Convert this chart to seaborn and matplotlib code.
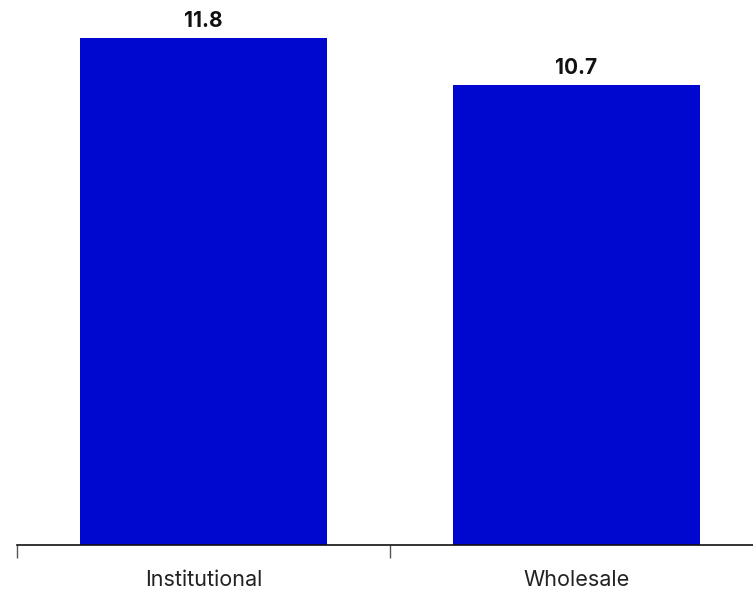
import matplotlib
matplotlib.use("Agg")
import matplotlib.pyplot as plt
import pandas as pd
import seaborn as sns

CATEGORIES = ["Institutional", "Wholesale"]
VALUES = [11.8, 10.7]
BAR_COLOR = "#0008CF"


def main():
    sns.set_theme(style="white")
    plt.rcParams["font.family"] = ["Inter", "DejaVu Sans"]

    df = pd.DataFrame({"segment": CATEGORIES, "value": VALUES})

    fig = plt.figure(figsize=(7.53, 5.90), dpi=100)
    # axes in pixel terms: left edge at x=17, category step 373px, baseline at y=545
    W, H = 753, 590
    ax = fig.add_axes([17 / W, (H - 545) / H, 746 / W, 537 / H])

    sns.barplot(data=df, x="segment", y="value", color=BAR_COLOR, width=0.66,
                saturation=1, edgecolor="none", ax=ax)

    ax.set_xlim(-0.5, 1.5)
    ax.set_ylim(0, 12.5)

    for i, v in enumerate(VALUES):
        ax.annotate(f"{v:.1f}", (i, v), xytext=(0, 5), textcoords="offset points",
                    ha="center", va="bottom", fontsize=15, fontweight="bold", color="#111111")

    sns.despine(ax=ax, left=True, top=True, right=True)
    ax.spines["bottom"].set_color("#111111")
    ax.spines["bottom"].set_linewidth(1.2)

    ax.set_yticks([])
    ax.set_xticks([-0.5, 0.5, 1.5])
    ax.set_xticklabels([])
    ax.tick_params(axis="x", which="major", direction="out", length=9.5, width=1,
                   color="#555555", bottom=True)
    ax.set_xticks(range(len(CATEGORIES)), minor=True)
    ax.set_xticklabels(CATEGORIES, minor=True, fontsize=15.5, color="#222222")
    ax.tick_params(axis="x", which="minor", length=0, pad=18)
    ax.set_xlabel("")
    ax.set_ylabel("")

    fig.savefig("out.png", dpi=100)
    plt.close(fig)


if __name__ == "__main__":
    main()
